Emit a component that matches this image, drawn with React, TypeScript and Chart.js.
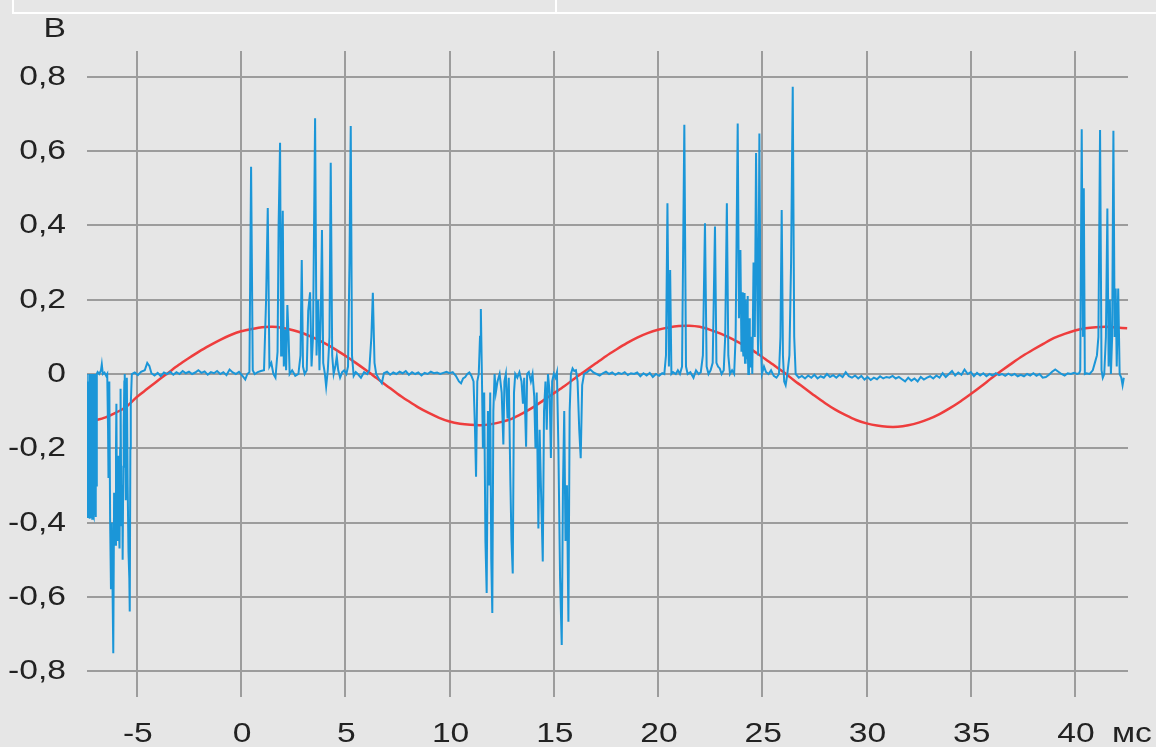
import React, { useEffect, useRef } from "react";
import { Chart, registerables } from "chart.js";

Chart.register(...registerables);

// ---- Data (time in ms, voltage in V) ----
const xTickValues = [-5, 0, 5, 10, 15, 20, 25, 30, 35, 40];
const xTickLabels = ["-5", "0", "5", "10", "15", "20", "25", "30", "35", "40"];
const yTickValues = [-0.8, -0.6, -0.4, -0.2, 0, 0.2, 0.4, 0.6, 0.8];
const yTickLabels = ["-0,8", "-0,6", "-0,4", "-0,2", "0", "0,2", "0,4", "0,6", "0,8"];
const xUnit = "мс";
const yUnit = "В";

const redWave: [number, number][] = [
  [-7.4, -0.13], [-7.0, -0.125], [-6.5, -0.117], [-6.0, -0.104], [-5.5, -0.088], [-5.0, -0.062],
  [-4.5, -0.04], [-4.0, -0.018], [-3.5, 0.003], [-3.0, 0.024], [-2.5, 0.043], [-2.0, 0.061],
  [-1.5, 0.077], [-1.0, 0.092], [-0.5, 0.105], [0, 0.115], [0.5, 0.121], [1.0, 0.126],
  [1.5, 0.127], [2.0, 0.124], [2.5, 0.118], [3.0, 0.109], [3.5, 0.097], [4.0, 0.083],
  [4.5, 0.067], [5.0, 0.049], [5.5, 0.03], [6.0, 0.01], [6.5, -0.011], [7.0, -0.032],
  [7.5, -0.053], [8.0, -0.072], [8.5, -0.09], [9.0, -0.105], [9.5, -0.118], [10.0, -0.128],
  [10.5, -0.134], [11.0, -0.137], [11.5, -0.138], [12.0, -0.135], [12.5, -0.129], [13.0, -0.12],
  [13.5, -0.106], [14.0, -0.09], [14.5, -0.071], [15.0, -0.052], [15.5, -0.033], [16.0, -0.012],
  [16.5, 0.008], [17.0, 0.028], [17.5, 0.048], [18.0, 0.066], [18.5, 0.083], [19.0, 0.098],
  [19.5, 0.11], [20.0, 0.119], [20.5, 0.125], [21.0, 0.129], [21.5, 0.13], [22.0, 0.127],
  [22.5, 0.119], [23.0, 0.109], [23.5, 0.096], [24.0, 0.081], [24.5, 0.065], [25.0, 0.046],
  [25.5, 0.026], [26.0, 0.006], [26.5, -0.016], [27.0, -0.037], [27.5, -0.058], [28.0, -0.078],
  [28.5, -0.096], [29.0, -0.111], [29.5, -0.124], [30.0, -0.133], [30.5, -0.139], [31.0, -0.142],
  [31.5, -0.142], [32.0, -0.138], [32.5, -0.131], [33.0, -0.121], [33.5, -0.108], [34.0, -0.092],
  [34.5, -0.074], [35.0, -0.054], [35.5, -0.033], [36.0, -0.011], [36.5, 0.01], [37.0, 0.03],
  [37.5, 0.049], [38.0, 0.066], [38.5, 0.082], [39.0, 0.097], [39.5, 0.108], [40.0, 0.117],
  [40.5, 0.123], [41.0, 0.126], [41.5, 0.127], [42.0, 0.125], [42.5, 0.123],
];

const blueSignal: [number, number][] = [
  // burst of negative pulses at the start
  [-7.4, 0.0], [-7.38, -0.38], [-7.36, -0.02], [-7.34, -0.385], [-7.32, -0.05], [-7.3, -0.38],
  [-7.28, 0.0], [-7.26, -0.39], [-7.24, -0.1], [-7.22, -0.38], [-7.2, 0.0], [-7.18, -0.385],
  [-7.16, -0.03], [-7.14, -0.39], [-7.12, 0.0], [-7.1, -0.38], [-7.08, -0.2], [-7.06, -0.385],
  [-7.04, 0.0], [-7.02, -0.38], [-7.0, -0.05], [-6.98, -0.385], [-6.96, 0.0], [-6.94, -0.3],
  [-6.92, 0.0], [-6.88, 0.005], [-6.8, 0.0], [-6.72, 0.01], [-6.68, 0.026], [-6.63, 0.0],
  [-6.55, 0.004], [-6.47, -0.005], [-6.42, 0.0], [-6.38, -0.15], [-6.36, -0.28], [-6.32, -0.02],
  [-6.28, -0.4], [-6.24, -0.58], [-6.2, -0.4], [-6.16, -0.6], [-6.13, -0.752], [-6.09, -0.32],
  [-6.06, -0.44], [-6.03, -0.46], [-6.0, -0.2], [-5.98, -0.08], [-5.95, -0.4], [-5.93, -0.45],
  [-5.9, -0.3], [-5.88, -0.22], [-5.85, -0.43], [-5.83, -0.47], [-5.8, -0.2], [-5.78, -0.04],
  [-5.75, -0.35], [-5.73, -0.41], [-5.7, -0.3], [-5.68, -0.5], [-5.65, -0.25], [-5.63, -0.14],
  [-5.6, -0.02], [-5.58, 0.0], [-5.55, -0.2], [-5.53, -0.34], [-5.5, -0.1], [-5.48, -0.01],
  [-5.44, -0.3], [-5.4, -0.48], [-5.36, -0.55], [-5.34, -0.64], [-5.31, -0.2], [-5.29, -0.08],
  [-5.24, 0.0],
  // quiet
  [-5.1, 0.004], [-4.95, -0.003], [-4.8, 0.006], [-4.62, 0.01], [-4.5, 0.03], [-4.4, 0.022],
  [-4.3, 0.002], [-4.15, -0.004], [-4.0, 0.003], [-3.85, -0.006], [-3.7, 0.004], [-3.55, 0.0],
  [-3.4, 0.006], [-3.25, -0.002], [-3.1, 0.005], [-2.95, 0.0], [-2.8, 0.008], [-2.65, 0.002],
  [-2.5, 0.006], [-2.35, 0.0], [-2.2, 0.004], [-2.05, 0.01], [-1.9, 0.003], [-1.75, 0.007],
  [-1.6, -0.002], [-1.45, 0.005], [-1.3, 0.002], [-1.15, 0.008], [-1.0, 0.0], [-0.85, 0.005],
  [-0.7, -0.003], [-0.55, 0.012], [-0.4, 0.004], [-0.25, 0.0], [-0.1, 0.006], [0.05, -0.004],
  [0.2, -0.015], [0.3, 0.0],
  // positive burst 0..6.5 ms
  [0.4, 0.005], [0.48, 0.558], [0.56, 0.01], [0.65, 0.0], [0.8, 0.005], [0.95, 0.008],
  [1.1, 0.01], [1.2, 0.2], [1.28, 0.447], [1.36, 0.02], [1.45, 0.03], [1.55, 0.0],
  [1.65, -0.01], [1.75, 0.06], [1.8, 0.4], [1.87, 0.623], [1.92, 0.05], [1.96, 0.3],
  [2.0, 0.44], [2.05, 0.02], [2.1, 0.12], [2.16, 0.01], [2.22, 0.186], [2.28, 0.1],
  [2.33, 0.0], [2.45, 0.01], [2.6, -0.005], [2.75, 0.0], [2.85, 0.05], [2.91, 0.307],
  [2.97, 0.02], [3.05, 0.0], [3.15, 0.01], [3.22, 0.17], [3.31, 0.22], [3.38, 0.02],
  [3.45, 0.1], [3.55, 0.689], [3.62, 0.05], [3.7, 0.2], [3.76, 0.01], [3.82, 0.15],
  [3.88, 0.388], [3.94, 0.03], [4.02, 0.0], [4.08, -0.034], [4.16, 0.01], [4.24, 0.1],
  [4.3, 0.569], [4.37, 0.05], [4.44, 0.0], [4.52, 0.02], [4.59, 0.047], [4.66, 0.01],
  [4.75, -0.01], [4.85, 0.005], [4.95, 0.01], [5.05, 0.0], [5.13, 0.02], [5.2, 0.3],
  [5.26, 0.668], [5.32, 0.05], [5.4, -0.005], [5.5, 0.005], [5.6, 0.0], [5.75, -0.01],
  [5.9, 0.005], [6.05, 0.0], [6.15, 0.01], [6.25, 0.1], [6.32, 0.219], [6.4, 0.03],
  [6.48, 0.0], [6.6, -0.012], [6.75, -0.025],
  // quiet
  [6.85, 0.002], [7.0, 0.006], [7.15, -0.002], [7.3, 0.004], [7.45, 0.0], [7.6, 0.006],
  [7.75, 0.002], [7.9, 0.008], [8.05, -0.002], [8.2, 0.005], [8.35, 0.0], [8.5, 0.004],
  [8.65, -0.004], [8.8, 0.003], [8.95, 0.0], [9.1, 0.006], [9.25, 0.002], [9.4, 0.004],
  [9.55, 0.0], [9.7, 0.003], [9.85, 0.006], [10.0, 0.002], [10.15, 0.005], [10.3, -0.005],
  [10.45, -0.02], [10.55, -0.025], [10.65, -0.012], [10.75, -0.008], [10.85, 0.0], [10.95, 0.004],
  [11.05, -0.005],
  // negative burst 11..16.4 ms
  [11.15, -0.02], [11.22, -0.15], [11.27, -0.277], [11.33, -0.02], [11.4, 0.0], [11.46, 0.1],
  [11.5, 0.175], [11.55, 0.0], [11.6, -0.2], [11.66, -0.05], [11.72, -0.45], [11.78, -0.59],
  [11.84, -0.1], [11.9, -0.3], [11.95, -0.05], [12.0, -0.5], [12.05, -0.644], [12.1, -0.1],
  [12.16, 0.0], [12.22, -0.05], [12.3, -0.02], [12.4, 0.0], [12.5, -0.05], [12.58, -0.19],
  [12.63, -0.02], [12.7, 0.0], [12.78, -0.12], [12.84, -0.01], [12.92, -0.3], [12.97, -0.45],
  [13.03, -0.537], [13.09, -0.05], [13.15, 0.0], [13.25, -0.01], [13.35, 0.005], [13.45, -0.02],
  [13.52, -0.08], [13.58, -0.01], [13.67, -0.196], [13.72, 0.0], [13.8, 0.005], [13.9, -0.02],
  [13.98, 0.0], [14.06, -0.06], [14.12, -0.2], [14.18, -0.05], [14.26, -0.416], [14.32, -0.15],
  [14.38, -0.3], [14.47, -0.505], [14.53, -0.1], [14.6, -0.02], [14.66, -0.15], [14.72, 0.0],
  [14.8, -0.05], [14.86, -0.226], [14.92, -0.02], [15.0, 0.0], [15.08, -0.01], [15.15, 0.005],
  [15.22, -0.2], [15.3, -0.55], [15.38, -0.73], [15.44, -0.3], [15.5, -0.1], [15.56, -0.45],
  [15.63, -0.3], [15.7, -0.667], [15.76, -0.1], [15.82, 0.0], [15.9, 0.015], [15.98, 0.008],
  [16.06, 0.01], [16.14, -0.02], [16.22, -0.15], [16.29, -0.227], [16.36, -0.03], [16.45, 0.0],
  // quiet
  [16.6, 0.005], [16.75, 0.012], [16.9, 0.004], [17.05, 0.0], [17.2, -0.004], [17.35, 0.002],
  [17.5, 0.006], [17.65, 0.0], [17.8, 0.004], [17.95, -0.002], [18.1, 0.003], [18.25, 0.0],
  [18.4, 0.005], [18.55, -0.003], [18.7, 0.002], [18.85, 0.0], [19.0, 0.004], [19.15, -0.006],
  [19.3, 0.002], [19.45, -0.004], [19.6, 0.003], [19.75, -0.008], [19.9, 0.0], [20.05, -0.005],
  [20.2, 0.002], [20.3, 0.0],
  // positive burst 20..26.6 ms
  [20.38, 0.05], [20.45, 0.46], [20.52, 0.02], [20.58, 0.28], [20.64, 0.0], [20.72, 0.005],
  [20.85, 0.0], [20.95, 0.01], [21.05, 0.0], [21.15, 0.02], [21.26, 0.671], [21.34, 0.02],
  [21.42, 0.0], [21.55, 0.005], [21.7, -0.01], [21.82, 0.01], [21.95, 0.0], [22.05, 0.005],
  [22.15, 0.05], [22.25, 0.406], [22.33, 0.02], [22.42, 0.0], [22.52, 0.01], [22.62, 0.03],
  [22.73, 0.397], [22.8, 0.03], [22.88, 0.02], [22.96, 0.015], [23.05, 0.0], [23.15, 0.01],
  [23.22, 0.1], [23.3, 0.46], [23.37, 0.05], [23.45, 0.0], [23.55, 0.01], [23.65, 0.0],
  [23.72, 0.1], [23.82, 0.675], [23.88, 0.15], [23.95, 0.334], [24.0, 0.06], [24.03, 0.2],
  [24.05, 0.22], [24.07, 0.08], [24.09, 0.05], [24.11, 0.19], [24.13, 0.218], [24.15, 0.1],
  [24.17, 0.03], [24.19, 0.15], [24.21, 0.2], [24.23, 0.09], [24.25, 0.04], [24.27, 0.18],
  [24.29, 0.21], [24.31, 0.07], [24.33, 0.0], [24.36, 0.12], [24.38, 0.15], [24.4, 0.06],
  [24.42, 0.02], [24.45, 0.08], [24.48, 0.1], [24.52, 0.0], [24.58, 0.3],
  [24.64, 0.1], [24.7, 0.595], [24.76, 0.2], [24.8, 0.05], [24.86, 0.648], [24.92, 0.1],
  [24.98, 0.0], [25.08, 0.02], [25.18, 0.005], [25.3, 0.0], [25.42, 0.01], [25.55, -0.005],
  [25.68, -0.01], [25.8, 0.0], [25.87, 0.1], [25.93, 0.442], [25.99, 0.05], [26.05, -0.02],
  [26.12, -0.03], [26.2, 0.0], [26.3, 0.05], [26.38, 0.3], [26.46, 0.774], [26.53, 0.1],
  [26.6, 0.0],
  // quiet
  [26.75, -0.01], [26.9, -0.005], [27.05, -0.012], [27.2, -0.004], [27.35, -0.01], [27.5, -0.002],
  [27.65, -0.012], [27.8, -0.006], [27.95, -0.01], [28.1, 0.0], [28.25, -0.008], [28.4, -0.003],
  [28.55, -0.01], [28.7, -0.002], [28.85, -0.008], [29.0, 0.005], [29.15, -0.006], [29.3, -0.01],
  [29.45, -0.004], [29.6, -0.012], [29.75, -0.005], [29.9, -0.015], [30.05, -0.008], [30.2, -0.016],
  [30.35, -0.01], [30.5, -0.014], [30.65, -0.006], [30.8, -0.012], [30.95, -0.008], [31.1, -0.01],
  [31.25, -0.005], [31.4, -0.012], [31.55, -0.008], [31.7, -0.014], [31.85, -0.02], [32.0, -0.01],
  [32.15, -0.018], [32.3, -0.012], [32.45, -0.02], [32.6, -0.008], [32.75, -0.015], [32.9, -0.01],
  [33.05, -0.006], [33.2, -0.012], [33.35, -0.004], [33.5, -0.01], [33.65, 0.002], [33.8, -0.008],
  [33.95, 0.0], [34.1, 0.008], [34.25, -0.004], [34.4, 0.004], [34.55, -0.002], [34.7, 0.012],
  [34.85, 0.0], [35.0, 0.005], [35.15, -0.006], [35.3, 0.003], [35.45, -0.004], [35.6, 0.002],
  [35.75, -0.006], [35.9, 0.0], [36.05, -0.004], [36.2, 0.002], [36.35, -0.003], [36.5, 0.0],
  [36.65, -0.005], [36.8, 0.001], [36.95, -0.004], [37.1, 0.0], [37.25, -0.006], [37.4, -0.002],
  [37.55, -0.006], [37.7, 0.0], [37.85, -0.004], [38.0, 0.002], [38.15, -0.005], [38.3, 0.0],
  [38.45, -0.01], [38.6, -0.008], [38.75, -0.002], [38.9, 0.006], [39.05, 0.012], [39.2, 0.006],
  [39.35, 0.0], [39.5, -0.004], [39.65, 0.002], [39.8, 0.0], [39.95, 0.003], [40.1, 0.0],
  [40.2, 0.002],
  // final burst
  [40.25, 0.01], [40.32, 0.659], [40.38, 0.1], [40.42, 0.5], [40.47, 0.0], [40.55, 0.002],
  [40.7, 0.0], [40.85, 0.01], [40.95, 0.03], [41.05, 0.05], [41.12, 0.1], [41.2, 0.657],
  [41.27, 0.01], [41.33, -0.01], [41.4, 0.0], [41.48, 0.1], [41.55, 0.446], [41.61, 0.02],
  [41.67, 0.2], [41.72, 0.0], [41.78, 0.1], [41.84, 0.655], [41.9, 0.1], [41.95, 0.23],
  [42.0, 0.02], [42.07, 0.23], [42.14, 0.0], [42.22, -0.01], [42.28, -0.03], [42.34, -0.01],
];

const textColor = "#222222";
const labelFont = '28px "Liberation Sans", Arial, Helvetica, sans-serif';

const labelPlugin = {
  id: "stretchedLabels",
  afterDraw(chart: any) {
    const ctx = chart.ctx as CanvasRenderingContext2D;
    const xs = chart.scales.x;
    const ys = chart.scales.y;
    const draw = (text: string, x: number, y: number, align: CanvasTextAlign) => {
      ctx.save();
      ctx.translate(x, y);
      ctx.scale(1.2, 1);
      ctx.font = labelFont;
      ctx.fillStyle = textColor;
      ctx.textAlign = align;
      ctx.textBaseline = "alphabetic";
      ctx.fillText(text, 0, 0);
      ctx.restore();
    };
    yTickValues.forEach((v, i) => draw(yTickLabels[i], 66, ys.getPixelForValue(v) + 8, "right"));
    draw(yUnit, 66, 37, "right");
    xTickValues.forEach((v, i) => draw(xTickLabels[i], xs.getPixelForValue(v) + 1, 742, "center"));
    draw(xUnit, 1112, 742, "left");
  },
};

export default function App() {
  const canvasRef = useRef<HTMLCanvasElement | null>(null);

  useEffect(() => {
    if (!canvasRef.current) return;
    const chart = new Chart(canvasRef.current, {
      type: "line",
      data: {
        datasets: [
          {
            label: "signal",
            data: blueSignal.map(([x, y]) => ({ x, y })),
            borderColor: "#1b96d8",
            borderWidth: 2,
            pointRadius: 0,
            tension: 0,
            fill: false,
          },
          {
            label: "wave",
            data: redWave.map(([x, y]) => ({ x, y })),
            borderColor: "#ee3d3d",
            borderWidth: 2.5,
            pointRadius: 0,
            tension: 0.3,
            fill: false,
          },
        ],
      },
      options: {
        animation: false,
        responsive: false,
        devicePixelRatio: 1,
        layout: { padding: { left: 87, right: 28, top: 51, bottom: 50 } },
        plugins: { legend: { display: false }, tooltip: { enabled: false } },
        scales: {
          x: {
            type: "linear",
            min: -7.39,
            max: 42.54,
            afterBuildTicks: (axis: any) => {
              axis.ticks = xTickValues.map((v) => ({ value: v }));
            },
            ticks: { display: false },
            grid: { color: "#9c9c9c", lineWidth: 2, drawTicks: false },
            border: { display: false },
          },
          y: {
            type: "linear",
            min: -0.87,
            max: 0.87,
            afterBuildTicks: (axis: any) => {
              axis.ticks = yTickValues.map((v) => ({ value: v }));
            },
            ticks: { display: false },
            grid: { color: "#9c9c9c", lineWidth: 2, drawTicks: false },
            border: { display: false },
          },
        },
      },
      plugins: [labelPlugin],
    });
    return () => chart.destroy();
  }, []);

  return (
    <div
      style={{
        position: "fixed",
        left: 0,
        top: 0,
        width: 1156,
        height: 747,
        background: "#e6e6e6",
        overflow: "hidden",
      }}
    >
      <div style={{ position: "absolute", left: 12, top: 12, width: 1144, height: 2, background: "#ffffff" }} />
      <div style={{ position: "absolute", left: 12, top: 0, width: 2, height: 14, background: "#ffffff" }} />
      <div style={{ position: "absolute", left: 555, top: 0, width: 2, height: 14, background: "#ffffff" }} />
      <canvas ref={canvasRef} width={1156} height={747} style={{ position: "absolute", left: 0, top: 0, display: "block" }} />
    </div>
  );
}
